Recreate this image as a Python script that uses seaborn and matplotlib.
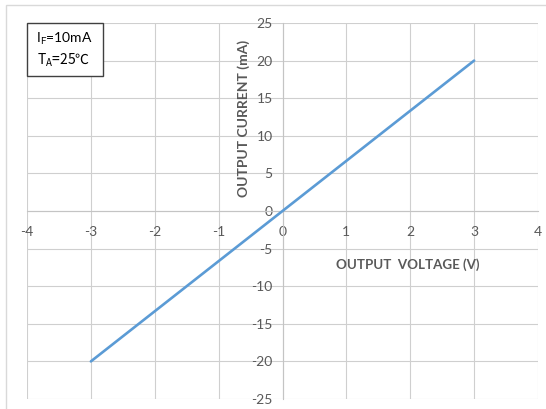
import matplotlib
matplotlib.use('Agg')
import matplotlib.pyplot as plt
import seaborn as sns
import pandas as pd
from matplotlib.patches import Rectangle

# ---- data ----
voltage = [-3, 0, 3]
current = [-20, 0, 20]
x_ticks = [-4, -3, -2, -1, 0, 1, 2, 3, 4]
y_ticks = [-25, -20, -15, -10, -5, 0, 5, 10, 15, 20, 25]
x_label = "OUTPUT  VOLTAGE (V)"
y_label = "OUTPUT CURRENT (mA)"
note_lines = [r"$\mathregular{I_F}$=10mA", r"$\mathregular{T_A}$=25℃"]

sns.set_theme(style='white')
plt.rcParams['font.family'] = ['Lato', 'DejaVu Sans']
plt.rcParams['axes.unicode_minus'] = False
plt.rcParams['mathtext.default'] = 'regular'

W, H = 546, 409
fig = plt.figure(figsize=(W / 100, H / 100), dpi=100)
ax = fig.add_axes([27 / W, 10 / H, 511 / W, 376 / H])

df = pd.DataFrame({'V': voltage, 'I': current})
sns.lineplot(data=df, x='V', y='I', ax=ax, color='#5B9BD5', linewidth=1.9, zorder=4)

ax.set_xlim(x_ticks[0], x_ticks[-1])
ax.set_ylim(y_ticks[0], y_ticks[-1])
ax.set_xticks(x_ticks)
ax.set_yticks(y_ticks)
ax.set_xticklabels([str(t) for t in x_ticks])
ax.set_yticklabels([str(t) for t in y_ticks])
ax.grid(True, color='#cfcfcf', linewidth=0.8)
ax.set_axisbelow(True)
for s in ['top', 'right']:
    ax.spines[s].set_visible(False)
ax.spines['left'].set_position('zero')
ax.spines['bottom'].set_position('zero')
for s in ['left', 'bottom']:
    ax.spines[s].set_color('#c4c4c4')
    ax.spines[s].set_linewidth(0.8)
ax.tick_params(axis='x', length=0, pad=11, labelsize=10, labelcolor='#595959')
ax.tick_params(axis='y', length=0, pad=7, labelsize=10, labelcolor='#595959')
for lbl in ax.get_xticklabels() + ax.get_yticklabels():
    lbl.set_clip_on(False)
ax.set_xlabel('')
ax.set_ylabel('')

ax.text(0.4247, 0.745, y_label, transform=ax.transAxes, rotation=90,
        ha='center', va='center', fontsize=10, fontweight='bold', color='#595959')
ax.text(0.7456, 0.356, x_label, transform=ax.transAxes,
        ha='center', va='center', fontsize=9.6, fontweight='bold', color='#595959')

# note box
ax.add_patch(Rectangle((0, 1 - 53 / 376), 76 / 511, 53 / 376, transform=ax.transAxes,
                       facecolor='white', edgecolor='#404040', linewidth=1.0,
                       zorder=6, clip_on=False))
ax.text(9 / 511, 0.9468, note_lines[0], transform=ax.transAxes, ha='left', va='baseline',
        fontsize=10, color='black', zorder=7)
ax.text(10 / 511, 0.8883, note_lines[1], transform=ax.transAxes, ha='left', va='baseline',
        fontsize=10, color='black', zorder=7, family='Noto Sans CJK SC')

# outer chart border (cropped on right/bottom)
fig.add_artist(Rectangle((6 / W, -0.1), 1.2, 1 - 5 / H + 0.1, transform=fig.transFigure,
                         fill=False, edgecolor='#d9d9d9', linewidth=1.0))

fig.savefig('out.png', dpi=100)
